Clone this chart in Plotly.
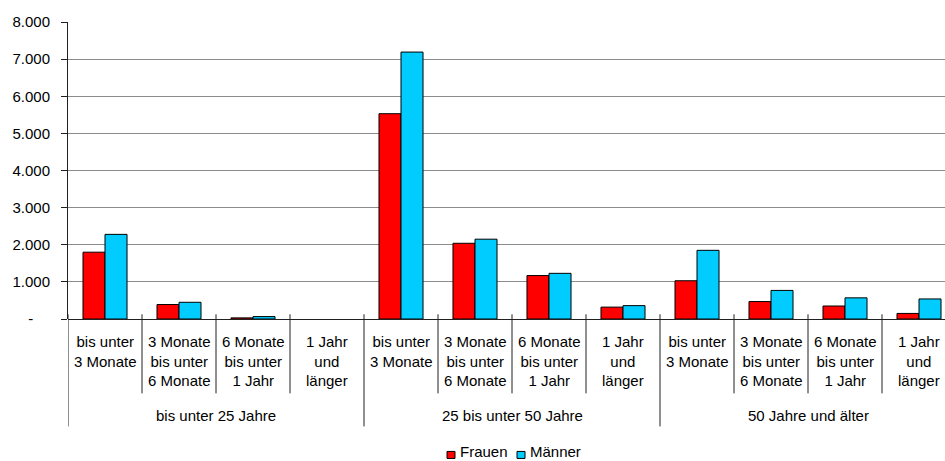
import plotly.graph_objects as go

# data
groups = ["bis unter 25 Jahre", "25 bis unter 50 Jahre", "50 Jahre und älter"]
durations = [
    "bis unter<br>3 Monate",
    "3 Monate<br>bis unter<br>6 Monate",
    "6 Monate<br>bis unter<br>1 Jahr",
    "1 Jahr<br>und<br>länger",
]
frauen = [1800, 390, 30, 0, 5530, 2040, 1170, 320, 1030, 470, 350, 150]
maenner = [2280, 450, 65, 0, 7190, 2150, 1230, 360, 1850, 770, 570, 540]
y_ticks = [0, 1000, 2000, 3000, 4000, 5000, 6000, 7000, 8000]
y_ticktext = ["-\u00a0\u00a0\u00a0\u00a0", "1.000", "2.000", "3.000", "4.000",
              "5.000", "6.000", "7.000", "8.000"]

FONT = "Liberation Sans, Arial, sans-serif"
W, H = 945, 461
L, T, B0 = 68, 22, 318.7          # plot area left, top, zero line (px)
CAT_W = 74.0                       # px per category


def py(px_y):
    """pixel row -> paper y"""
    return (B0 - px_y) / (B0 - T)


def px_(px_x):
    """pixel column -> paper x"""
    return (px_x - L) / (W - L)


n = len(groups) * len(durations)
xs = list(range(n))

fig = go.Figure()
series = [("Frauen", frauen, "#FF0000"), ("Männer", maenner, "#00CCFF")]
for name, vals, col in series:
    fig.add_bar(x=xs, y=vals, name=name, showlegend=False,
                marker=dict(color=col,
                            line=dict(color="black", width=[1 if v else 0 for v in vals])))

annotations = []
for gi, g in enumerate(groups):
    for di, d in enumerate(durations):
        annotations.append(dict(x=gi * len(durations) + di, y=py(331), xref="x", yref="paper",
                                text=d, showarrow=False, yanchor="top",
                                font=dict(size=15, family=FONT, color="black")))
    annotations.append(dict(x=gi * len(durations) + (len(durations) - 1) / 2, y=py(415),
                            xref="x", yref="paper", text=g, showarrow=False,
                            yanchor="middle", font=dict(size=15, family=FONT, color="black")))

shapes = []
for i in range(n):
    long = i % len(durations) == 0
    shapes.append(dict(type="line", xref="x", yref="paper", x0=i - 0.5, x1=i - 0.5,
                       y0=py(314), y1=py(426 if long else 393),
                       line=dict(color="#202020", width=1)))

# hand-drawn legend, tighter than plotly's own
lx = [447, 517]
for (name, _, col), x0 in zip(series, lx):
    shapes.append(dict(type="rect", xref="paper", yref="paper",
                       x0=px_(x0), x1=px_(x0 + 8), y0=py(451), y1=py(458),
                       fillcolor=col, line=dict(color="black", width=1)))
    annotations.append(dict(x=px_(x0 + 11), y=py(451.5), xref="paper", yref="paper",
                            text=name, showarrow=False, xanchor="left", yanchor="middle",
                            font=dict(size=15, family=FONT, color="black")))

fig.update_layout(
    width=W, height=H,
    margin=dict(l=L, r=0, t=T, b=H - B0, autoexpand=False),
    plot_bgcolor="white", paper_bgcolor="white",
    font=dict(family=FONT, size=15, color="black"),
    barmode="group", bargap=0.405, bargroupgap=0,
    showlegend=False,
    annotations=annotations, shapes=shapes,
)
fig.update_xaxes(range=[-0.5, -0.5 + (W - L) / CAT_W], showticklabels=False, ticks="",
                 showgrid=False, zeroline=False, showline=False)
fig.update_yaxes(range=[0, 8000], tickvals=y_ticks, ticktext=y_ticktext,
                 ticks="outside", ticklen=6, tickcolor="#202020",
                 showgrid=True, gridcolor="#8c8c8c", gridwidth=1,
                 zeroline=True, zerolinecolor="#202020", zerolinewidth=1,
                 showline=True, linecolor="#202020", linewidth=1,
                 ticklabelstandoff=8, tickfont=dict(size=15, family=FONT, color="black"))

# the page body has an 8px default margin; drop it so the figure fills the window
fig.write_html("out.html", config={"displayModeBar": False},
               post_script="document.body.style.margin='0';document.body.style.overflow='hidden';")
